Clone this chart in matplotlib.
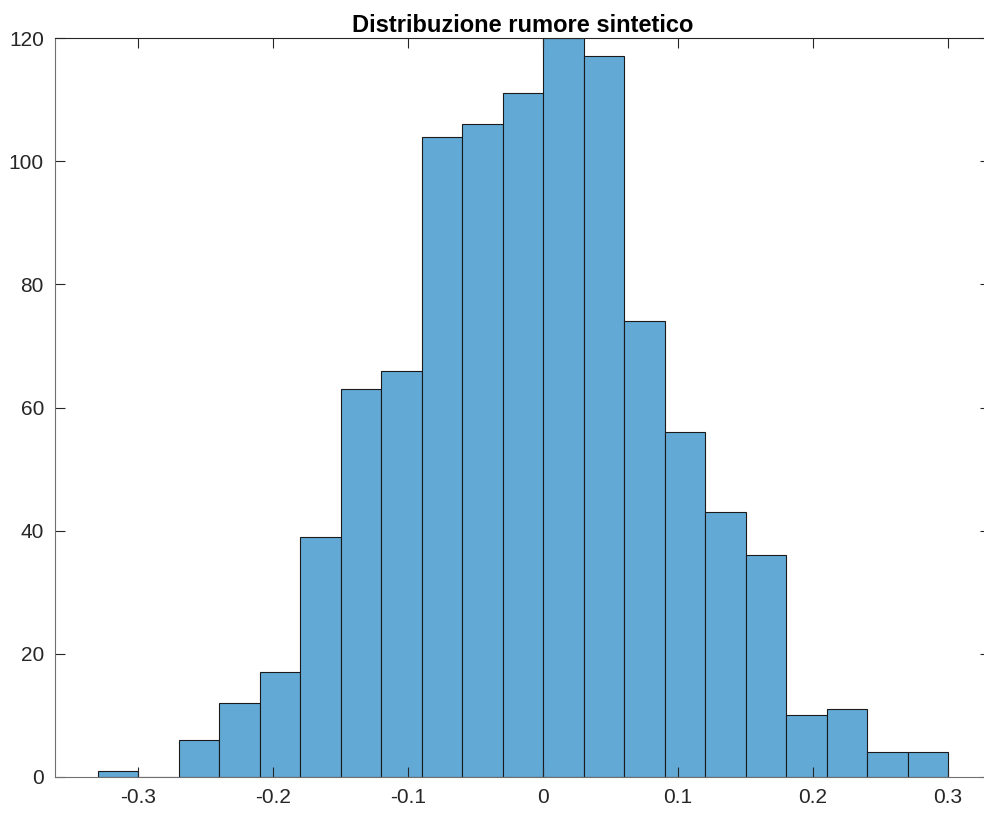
import matplotlib
matplotlib.use("Agg")
import matplotlib.pyplot as plt
import numpy as np

bin_edges = [-0.33, -0.30, -0.27, -0.24, -0.21, -0.18, -0.15, -0.12, -0.09, -0.06, -0.03,
             0.00, 0.03, 0.06, 0.09, 0.12, 0.15, 0.18, 0.21, 0.24, 0.27, 0.30]
counts = [1, 0, 6, 12, 17, 39, 63, 66, 104, 106, 111, 120, 117, 74, 56, 43, 36, 10, 11, 4, 4]
x_ticks = [-0.3, -0.2, -0.1, 0, 0.1, 0.2, 0.3]
x_tick_labels = ["-0.3", "-0.2", "-0.1", "0", "0.1", "0.2", "0.3"]
y_ticks = [0, 20, 40, 60, 80, 100, 120]
title = "Distribuzione rumore sintetico"

plt.rcParams['font.family'] = ['Liberation Sans', 'DejaVu Sans']

fig = plt.figure(figsize=(9.84, 8.15), dpi=100)
ax = fig.add_axes([55/984, 38/815, 935/984, 739/815])

edges = np.array(bin_edges)
ax.bar(edges[:-1], counts, width=np.diff(edges), align='edge',
       color='#62A9D6', edgecolor='#1a1a1a', linewidth=0.8)

ax.set_xlim(-0.3615, 0.3311)
ax.set_ylim(0, 120)
ax.set_xticks(x_ticks)
ax.set_xticklabels(x_tick_labels)
ax.set_yticks(y_ticks)
ax.tick_params(direction='in', length=7, width=0.8, colors='#262626',
               labelsize=15, top=True, right=True, pad=8)
for s in ax.spines.values():
    s.set_color('#262626')
    s.set_linewidth(0.8)
ax.spines['left'].set_color('#707070')
ax.spines['bottom'].set_color('#707070')
ax.set_title(title, fontsize=17, fontweight='bold', pad=4)

fig.savefig("out.png", dpi=100)
